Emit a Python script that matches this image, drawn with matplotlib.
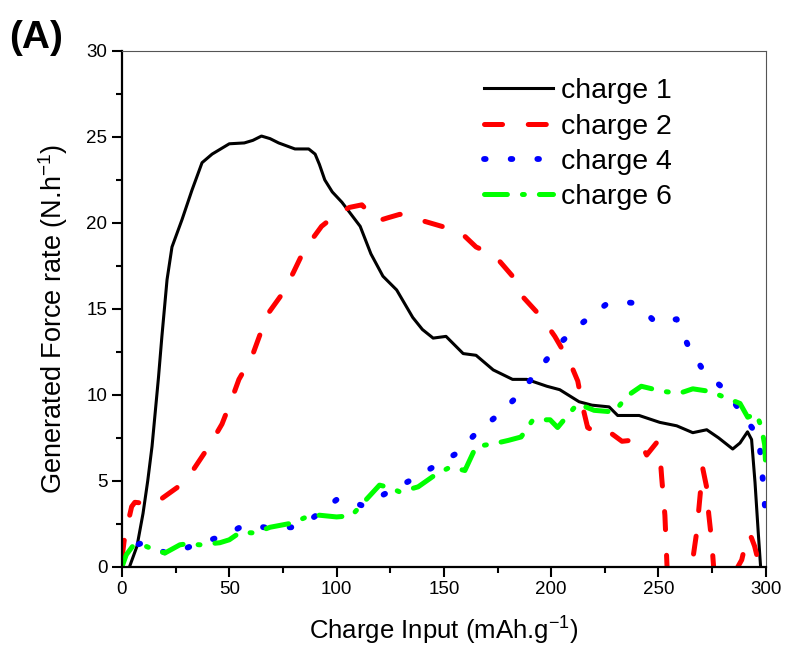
import matplotlib
matplotlib.use('Agg')
import matplotlib.pyplot as plt
from matplotlib.ticker import MultipleLocator

plt.rcParams['font.family'] = ['Liberation Sans', 'DejaVu Sans']
plt.rcParams['mathtext.fontset'] = 'custom'
plt.rcParams['mathtext.rm'] = 'Liberation Sans'
plt.rcParams['mathtext.it'] = 'Liberation Sans:italic'
plt.rcParams['lines.scale_dashes'] = False

# charge 1
x1 = [3.5, 7, 9.8, 12, 14, 15.5, 17, 18.6, 21, 23.3, 28, 32.6, 37.3, 42, 46, 50, 57, 61, 65, 69, 73, 80.6,
      87, 90, 92, 94.5, 98, 102.5, 111, 116, 121.6, 128, 135.5, 140, 145, 151, 159, 165, 173, 182, 188.6,
      198, 204, 213, 219, 227, 231, 241, 250.6, 258.5, 266, 272.5, 278, 284.6, 288, 291.5, 293.4, 295,
      296.5, 297.6]
y1 = [0, 1.2, 3.1, 5, 7, 9, 11, 13.4, 16.7, 18.6, 20.2, 21.9, 23.5, 24.0, 24.3, 24.6, 24.65, 24.8, 25.05,
      24.9, 24.65, 24.3, 24.3, 24.0, 23.4, 22.5, 21.8, 21.2, 19.8, 18.2, 16.9, 16.1, 14.5, 13.8, 13.3,
      13.4, 12.4, 12.3, 11.45, 10.9, 10.9, 10.5, 10.3, 9.6, 9.4, 9.3, 8.8, 8.8, 8.4, 8.2, 7.8, 7.97, 7.5,
      6.85, 7.2, 7.85, 7.4, 4.9, 2.0, 0]

# charge 2
x2 = [0, 1, 2.5, 4.5, 6, 10, 15, 20, 25.6, 33, 41, 46.6, 51, 54.5, 60.5, 64.3, 68.5, 75.4, 80, 84.8, 93,
      100, 106, 111.8, 118.8, 124, 129.5, 138, 149, 157.4, 165, 173.7, 182, 186.8, 195.6, 201.7, 208.7,
      212.4, 214.7, 217, 221, 225, 227, 233, 241, 244.5, 249, 250.6, 251.5, 253, 254, 256, 260, 264,
      265.5, 267.8, 270.6, 272.5, 273.4, 274.8, 275.7, 278, 283, 287, 288.8, 291.6, 293.3, 294.8, 296,
      297.5, 299]
y2 = [0.5, 1.5, 2.4, 3.5, 3.75, 3.7, 3.65, 4.1, 4.6, 5.6, 7.1, 8.3, 9.7, 10.9, 12.2, 13.5, 14.8, 16.0,
      17.15, 18.4, 19.8, 20.5, 20.9, 21.05, 20.1, 20.3, 20.5, 20.2, 19.8, 19.5, 18.6, 18.1, 16.9, 15.7,
      14.5, 13.4, 11.9, 10.8, 9.3, 8.1, 7.8, 7.7, 7.85, 7.3, 7.4, 6.5, 7.2, 6.7, 5.2, 3.0, 0, -2, -3, -1,
      0, 2.0, 5.75, 4.6, 3.1, 1.5, 0, -2, -2, 0, 0.4, 1.9, 1.7, 1.2, 0.6, 0, -1]

# charge 4
x4 = [0, 0.5, 5, 9.8, 15, 22.4, 28, 34, 45.6, 52, 57.3, 68, 79.6, 89, 100, 101.5, 112.3, 123.4, 134, 145,
      156, 166, 174.5, 185, 194, 204, 214.7, 226, 232, 238, 244, 248.7, 258.5, 264, 271, 281.8, 290,
      296.7, 298, 299, 300]
y4 = [0.3, 0.8, 1.2, 1.4, 1.1, 0.7, 1.0, 1.28, 1.74, 2.1, 2.44, 2.27, 2.3, 2.85, 3.9, 4.0, 3.55, 4.3, 5.0,
      5.8, 6.6, 7.9, 8.75, 10.0, 11.45, 13.0, 14.2, 15.3, 15.4, 15.35, 14.8, 14.2, 14.4, 12.8, 11.4,
      10.2, 8.7, 7.56, 6.0, 4.5, 2.9]

# charge 6
x6 = [0, 2, 5, 9, 13, 20, 27, 30, 36.3, 45.6, 50, 55, 62, 69, 79.6, 86, 92, 100, 107, 113, 120, 125,
      129.5, 138, 146, 153, 159.8, 165, 173, 180, 186, 191.5, 199.5, 203, 207, 212.4, 216, 220, 229.6,
      235, 242, 252, 260, 266, 274, 280, 284, 288, 291.6, 295.7, 298, 299.5, 300]
y6 = [0, 0.7, 1.2, 1.3, 1.1, 0.8, 1.28, 1.33, 1.28, 1.4, 1.57, 2.0, 1.97, 2.3, 2.55, 2.9, 3.0, 2.9, 2.97,
      3.8, 4.75, 4.6, 4.35, 4.65, 5.35, 5.8, 5.6, 7.0, 7.15, 7.35, 7.55, 8.55, 8.55, 8.1, 8.7, 9.5, 9.3,
      9.1, 9.0, 9.9, 10.5, 10.2, 10.1, 10.35, 10.2, 9.9, 9.7, 9.5, 8.7, 8.9, 8.1, 7.1, 5.8]

fig = plt.figure(figsize=(7.87, 6.53), dpi=100)
ax = fig.add_axes([0.155, 0.132, 0.818, 0.79])

ax.plot(x1, y1, color='black', lw=2.2, label='charge 1')
ax.plot(x2, y2, color='red', lw=3.6, dashes=(13, 18.5), dash_capstyle='round', label='charge 2')
ax.plot(x4, y4, color='blue', lw=4.2, dashes=(1.2, 18), dash_capstyle='round', label='charge 4')
ax.plot(x6, y6, color='#00ff00', lw=3.6, dashes=(16.5, 10.8, 1.4, 10.8), dash_capstyle='round',
        label='charge 6')

ax.set_xlim(0, 300)
ax.set_ylim(0, 30)
ax.xaxis.set_major_locator(MultipleLocator(50))
ax.xaxis.set_minor_locator(MultipleLocator(25))
ax.yaxis.set_major_locator(MultipleLocator(5))
ax.yaxis.set_minor_locator(MultipleLocator(2.5))
ax.tick_params(which='both', direction='out', top=False, right=False, width=1.5, labelsize=13.5)
ax.tick_params(which='major', length=7)
ax.tick_params(which='minor', length=4.5)

for s in ['left', 'bottom']:
    ax.spines[s].set_linewidth(1.6)
for s in ['top', 'right']:
    ax.spines[s].set_linewidth(0.8)
    ax.spines[s].set_color('#555555')

ax.set_xlabel('Charge Input (mAh.g$^{\\mathregular{-1}}$)', fontsize=18.5, labelpad=12)
ax.set_ylabel('Generated Force rate (N.h$^{\\mathregular{-1}}$)', fontsize=19.5)
ax.yaxis.set_label_coords(-0.081, 0.48)

ax.legend(loc='upper left', bbox_to_anchor=(0.563, 0.947), frameon=False, fontsize=20.5,
          handlelength=2.4, handletextpad=0.3, labelspacing=0.33, borderpad=0, borderaxespad=0)

fig.text(0.012, 0.927, '(A)', fontsize=28, fontweight='bold')

fig.savefig('out.png', dpi=100)
